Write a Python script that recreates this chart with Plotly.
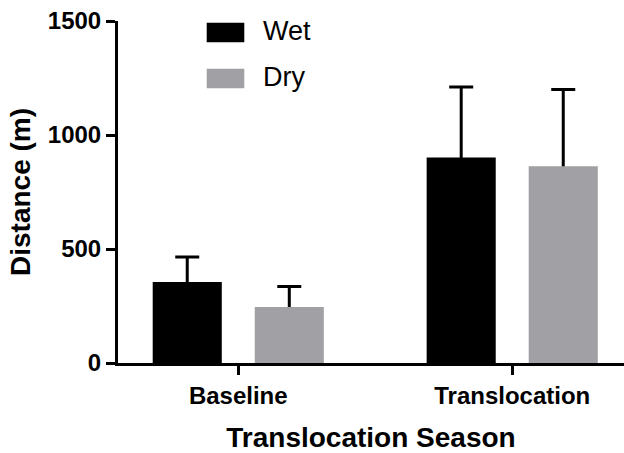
import plotly.graph_objects as go

categories = ["Baseline", "Translocation"]
series_names = ["Wet", "Dry"]
wet_values = [355, 901]
wet_errors = [110, 310]
dry_values = [246, 863]
dry_errors = [90, 337]
y_ticks = [0, 500, 1000, 1500]

colors = ["#000000", "#A1A1A5"]
FONT = "Liberation Sans, Arial, Helvetica, sans-serif"

fig = go.Figure()
# error bars on the lower layer (y), bars on the upper overlay layer (y2)
for name, vals, errs in zip(series_names, [wet_values, dry_values],
                            [wet_errors, dry_errors]):
    fig.add_trace(go.Bar(
        x=categories, y=vals, name=name + " SD",
        marker=dict(color="rgba(0,0,0,0)", line=dict(width=0)),
        error_y=dict(type="data", array=errs, color="#000000",
                     thickness=3, width=12),
        showlegend=False, hoverinfo="skip", yaxis="y",
    ))
for name, vals, col in zip(series_names, [wet_values, dry_values], colors):
    fig.add_trace(go.Bar(
        x=categories, y=vals, name=name,
        marker=dict(color=col, line=dict(width=0)),
        showlegend=False, yaxis="y2",
    ))

# legend drawn as swatches + text to match the reference sizes
plot_h = 453 - 21 - 90
leg_py = [32.5, 78.5]
for name, col, py in zip(series_names, colors, leg_py):
    yy = 1 - (py - 21) / plot_h
    fig.add_shape(type="rect", xref="paper", yref="paper",
                  x0=(206.7 - 118) / 506, x1=(244.3 - 118) / 506,
                  y0=yy - 9.8 / plot_h, y1=yy + 9.8 / plot_h,
                  fillcolor=col, line=dict(width=0))
    fig.add_annotation(text=name, xref="paper", yref="paper",
                       x=(261 - 118) / 506, y=yy + 1.5 / plot_h, xanchor="left",
                       yanchor="middle", showarrow=False,
                       font=dict(family=FONT, size=27, color="#000000"))

fig.update_layout(
    width=624, height=453,
    margin=dict(l=118, r=0, t=21, b=90),
    paper_bgcolor="white", plot_bgcolor="white",
    barmode="group", bargap=0.255, bargroupgap=0.323,
    font=dict(family=FONT, color="#000000"),
    xaxis=dict(
        type="category", range=[-0.439, 1.408],
        showline=True, linecolor="#000000", linewidth=3,
        ticks="outside", ticklen=9, tickwidth=3, tickcolor="#000000",
        tickfont=dict(family=FONT, size=24, color="#000000", weight="bold"),
        title=dict(text="Translocation Season", standoff=22,
                   font=dict(family=FONT, size=28, color="#000000", weight="bold")),
        showgrid=False, zeroline=False,
    ),
    yaxis=dict(
        range=[0, 1500], tickvals=y_ticks,
        showline=True, linecolor="#000000", linewidth=3,
        ticks="outside", ticklen=9, tickwidth=3, tickcolor="#000000",
        tickfont=dict(family=FONT, size=24, color="#000000", weight="bold"),
        title=dict(text="Distance (m)", standoff=10,
                   font=dict(family=FONT, size=28, color="#000000", weight="bold")),
        showgrid=False, zeroline=False,
    ),
    yaxis2=dict(
        range=[0, 1500], overlaying="y", visible=False,
        showgrid=False, zeroline=False,
    ),
)

fig.write_html("out.html")
